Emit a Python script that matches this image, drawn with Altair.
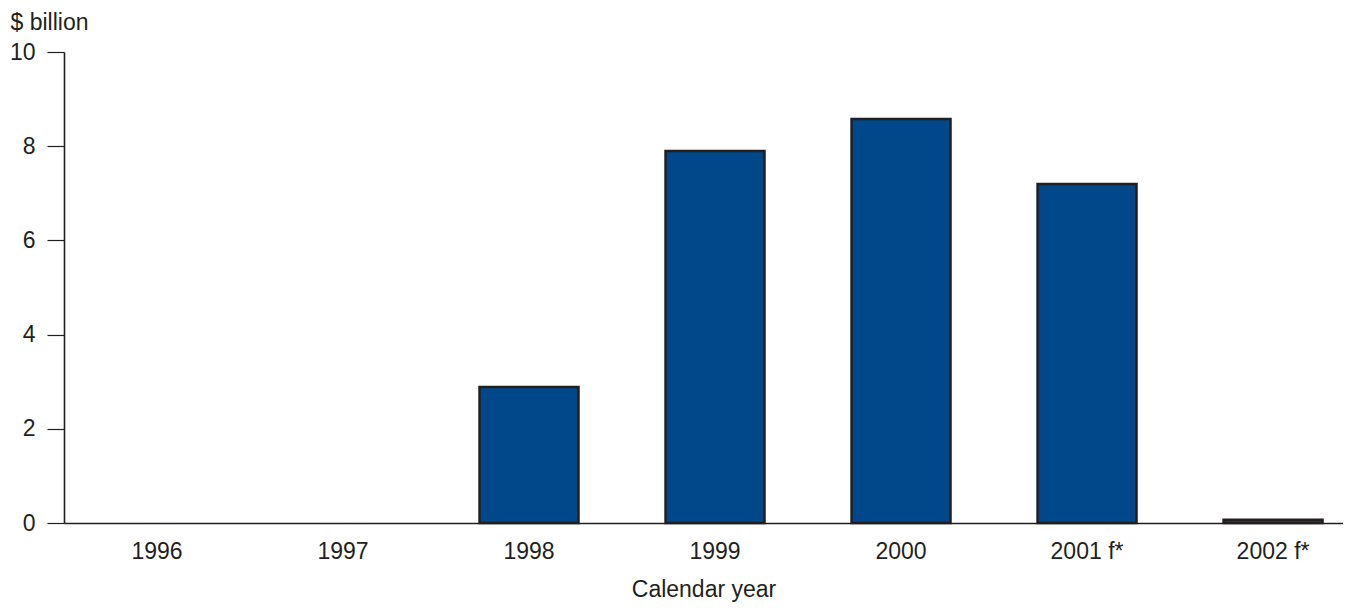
import altair as alt
import pandas as pd

years = ["1996", "1997", "1998", "1999", "2000", "2001 f*", "2002 f*"]
values = [0.0, 0.0, 2.89, 7.90, 8.58, 7.20, 0.07]

df = pd.DataFrame({"year": years, "value": values})

FONT = "Liberation Sans"
INK = "#231f20"
FS = 23

chart = alt.Chart(df).mark_bar(
    color="#00488a", stroke=INK, strokeWidth=2.5
).transform_filter(
    alt.datum.value > 0
).encode(
    x=alt.X("year:N", sort=years,
            scale=alt.Scale(domain=years, paddingInner=0.468, paddingOuter=0.172, align=0.68),
            axis=alt.Axis(title="Calendar year", labelAngle=0, ticks=False,
                          labelPadding=17, titlePadding=15,
                          labelFontSize=FS, titleFontSize=FS,
                          labelFont=FONT, titleFont=FONT,
                          labelColor=INK, titleColor=INK, titleFontWeight="normal",
                          domainColor=INK, domainWidth=1.6)),
    y=alt.Y("value:Q",
            scale=alt.Scale(domain=[0, 10], nice=False),
            axis=alt.Axis(title="$ billion", values=[0, 2, 4, 6, 8, 10], grid=False,
                          tickSize=17, tickColor=INK, tickWidth=1.2, labelPadding=12,
                          labelFontSize=FS, titleFontSize=FS,
                          labelFont=FONT, titleFont=FONT,
                          labelColor=INK, titleColor=INK, titleFontWeight="normal",
                          domainColor=INK, domainWidth=1.6,
                          titleAngle=0, titleAlign="left", titleBaseline="middle",
                          titleX=-54, titleY=-30)),
).properties(
    width=1279, height=471,
    autosize=alt.AutoSizeParams(type="none"),
    padding={"left": 56, "top": 44, "right": 0, "bottom": 80},
).configure_view(stroke=None)

chart.save("out.html", embed_options={"renderer": "svg", "actions": False})
